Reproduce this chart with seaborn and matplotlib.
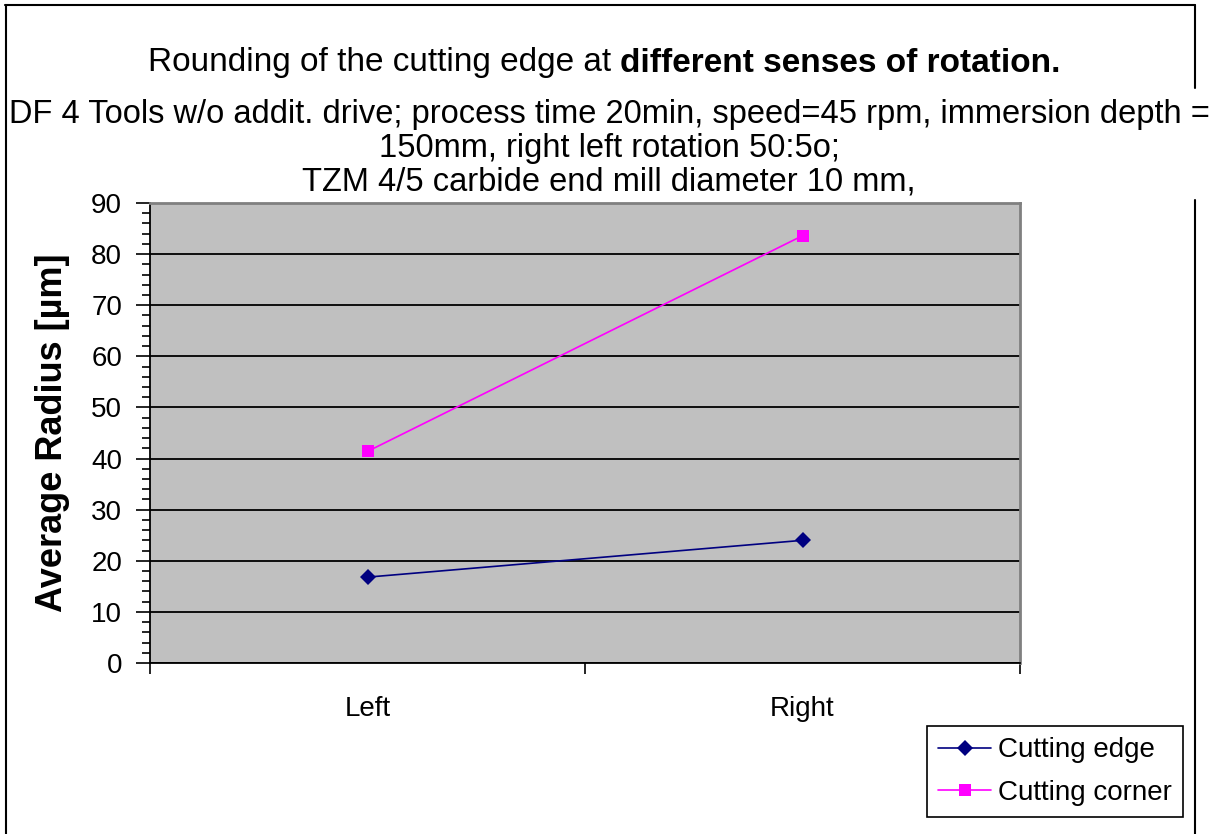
import matplotlib
matplotlib.use("Agg")
import matplotlib.pyplot as plt
import seaborn as sns
import pandas as pd
from matplotlib.lines import Line2D
from matplotlib.ticker import MultipleLocator

categories = ["Left", "Right"]
cutting_edge = [16.8, 24.0]
cutting_corner = [41.4, 83.6]
series_names = ["Cutting edge", "Cutting corner"]
yticks = [0, 10, 20, 30, 40, 50, 60, 70, 80, 90]

sns.set_theme(style="white")
plt.rcParams['font.family'] = ['Liberation Sans', 'DejaVu Sans']
plt.rcParams['text.color'] = 'black'
plt.rcParams['axes.labelcolor'] = 'black'
plt.rcParams['xtick.color'] = 'black'
plt.rcParams['ytick.color'] = 'black'

df = pd.DataFrame({
    "rotation": categories * 2,
    "radius": cutting_edge + cutting_corner,
    "series": [series_names[0]] * 2 + [series_names[1]] * 2,
})

W, H = 1219, 834
fig = plt.figure(figsize=(W / 100, H / 100), dpi=100)
ax = fig.add_axes([150 / W, 1 - 663 / H, 870 / W, 460 / H])
ax.set_facecolor("#C0C0C0")

sns.lineplot(data=df, x="rotation", y="radius", hue="series", style="series",
             markers={series_names[0]: "D", series_names[1]: "s"}, dashes=False,
             palette={series_names[0]: "#000080", series_names[1]: "#FF00FF"},
             markersize=8, markeredgewidth=0, linewidth=1.2, ax=ax, legend=False, zorder=5)

ax.set_xlim(-0.5, 1.5)
ax.set_ylim(0, 90)
ax.set_yticks(yticks)
ax.yaxis.set_minor_locator(MultipleLocator(2))
ax.set_xticks([0, 1])
ax.set_xticklabels(categories)
ax.set_xticks([-0.5, 0.5, 1.5], minor=True)
ax.tick_params(axis="x", which="major", length=0, labelsize=20, pad=24, colors="black")
ax.tick_params(axis="x", which="minor", length=8, width=1.2, direction="out", color="black", bottom=True)
ax.tick_params(axis="y", which="major", length=10, width=1.2, direction="out", labelsize=20, pad=10, color="black", left=True)
ax.tick_params(axis="y", which="minor", length=6, width=1.2, direction="out", color="black", left=True)
ax.yaxis.grid(True, which="major", color="black", linewidth=1.3)
ax.set_axisbelow(True)
for s in ["left", "bottom"]:
    ax.spines[s].set_color("black")
    ax.spines[s].set_linewidth(1.3)
for s in ["top", "right"]:
    ax.spines[s].set_color("#808080")
    ax.spines[s].set_linewidth(2)
ax.set_xlabel("")
ax.set_ylabel("Average Radius [µm]", fontsize=26, fontweight="bold")
ax.yaxis.set_label_coords((70 - 150) / 870, 0.5)

# outer border
fig.add_artist(Line2D([5 / W, 1195 / W], [1 - 5 / H, 1 - 5 / H], color="black", lw=1.5, transform=fig.transFigure))
fig.add_artist(Line2D([6 / W, 6 / W], [0, 1 - 5 / H], color="black", lw=1.5, transform=fig.transFigure))
fig.add_artist(Line2D([1195 / W, 1195 / W], [1 - 88 / H, 1 - 5 / H], color="black", lw=1.5, transform=fig.transFigure))
fig.add_artist(Line2D([1195 / W, 1195 / W], [0, 1 - 200 / H], color="black", lw=1.5, transform=fig.transFigure))

# title: mixed regular / bold
renderer = fig.canvas.get_renderer()
ty = 1 - 63 / H
t1 = fig.text(0, ty, "Rounding of the cutting edge at ", fontsize=24, va="center", ha="left")
t2 = fig.text(0, ty, "different senses of rotation.", fontsize=24, fontweight="bold", va="center", ha="left")
w1 = t1.get_window_extent(renderer).width
w2 = t2.get_window_extent(renderer).width
x0 = 604.5 - (w1 + w2) / 2
t1.set_x(x0 / W)
t2.set_x((x0 + w1) / W)

sub_lines = ["DF 4 Tools w/o addit. drive; process time 20min, speed=45 rpm, immersion depth =",
             "150mm, right left rotation 50:5o;",
             "TZM 4/5 carbide end mill diameter 10 mm,"]
for i, line in enumerate(sub_lines):
    fig.text(609 / W, 1 - (115 + 33.5 * i) / H, line, fontsize=23.5, ha="center", va="center")

handles = [Line2D([], [], color="#000080", marker="D", markersize=8, markeredgewidth=0, lw=1.2),
           Line2D([], [], color="#FF00FF", marker="s", markersize=8, markeredgewidth=0, lw=1.2)]
leg = fig.legend(handles, series_names, loc="lower right", bbox_to_anchor=(1183 / W, 1 - 817 / H),
                 fontsize=20, frameon=True, fancybox=False, edgecolor="black", framealpha=1,
                 handlelength=1.9, handletextpad=0.25, borderpad=0.4, labelspacing=0.6, borderaxespad=0)
leg.get_frame().set_linewidth(1.2)

fig.savefig("out.png", dpi=100, facecolor="white")
